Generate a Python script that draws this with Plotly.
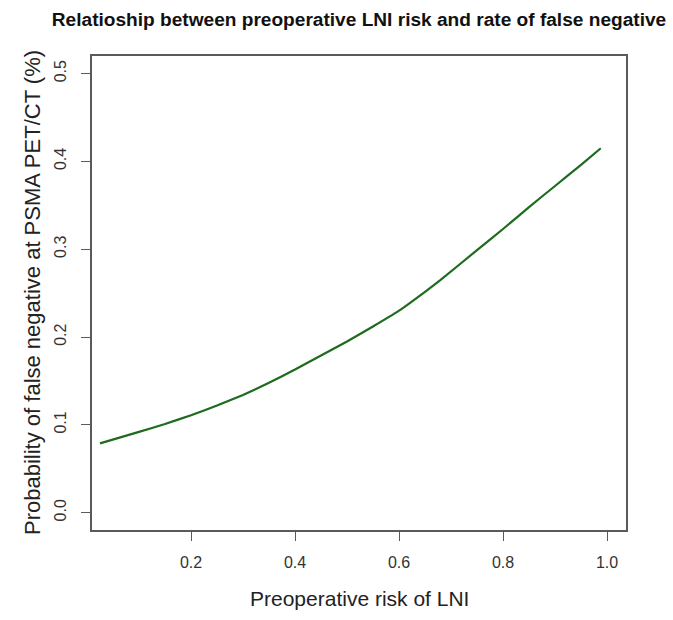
import plotly.graph_objects as go

# Values
lni_risk = [0.025, 0.1, 0.15, 0.2, 0.25, 0.3, 0.35, 0.4, 0.45, 0.5, 0.55,
            0.6, 0.65, 0.68, 0.75, 0.8, 0.85, 0.9, 0.95, 0.988]
false_neg_prob = [0.079, 0.092, 0.101, 0.111, 0.122, 0.134, 0.148, 0.163, 0.179, 0.195, 0.212,
                  0.230, 0.2515, 0.265, 0.299, 0.323, 0.348, 0.372, 0.396, 0.415]

x_ticks = [0.2, 0.4, 0.6, 0.8, 1.0]
x_tick_labels = ["0.2", "0.4", "0.6", "0.8", "1.0"]
y_ticks = [0.0, 0.1, 0.2, 0.3, 0.4, 0.5]
y_tick_labels = ["0.0", "0.1", "0.2", "0.3", "0.4", "0.5"]

title_text = "Relatioship between preoperative LNI risk and rate of false negative"
x_title = "Preoperative risk of LNI"
y_title = "Probability of false negative at PSMA PET/CT (%)"

FONT = "Liberation Sans, Arial, Helvetica, sans-serif"

# plot area in pixels
L, R, T, B = 92, 47, 56, 90
W, H = 673, 620
pw, ph = W - L - R, H - T - B

fig = go.Figure()
fig.add_trace(go.Scatter(
    x=lni_risk, y=false_neg_prob, mode="lines",
    line=dict(color="#1d6b1d", width=2.2, shape="spline", smoothing=0.3),
    showlegend=False, hoverinfo="skip",
))

fig.update_layout(
    width=W, height=H,
    margin=dict(l=L, r=R, t=T, b=B),
    paper_bgcolor="white", plot_bgcolor="white",
    font=dict(family=FONT, color="#222"),
    title=dict(text="<b>" + title_text + "</b>", x=0.5, xref="paper", xanchor="center",
               y=1 - 19 / H, yref="container", yanchor="middle",
               font=dict(size=19.1, color="#111")),
    annotations=[
        dict(text=x_title, xref="paper", yref="paper", x=0.5, y=-(598 - (H - B)) / ph,
             xanchor="center", yanchor="middle", showarrow=False,
             font=dict(size=21, color="#222")),
        dict(text=y_title, xref="paper", yref="paper", x=-(L - 32) / pw, y=0.5,
             xanchor="center", yanchor="middle", showarrow=False, textangle=-90,
             font=dict(size=22, color="#222")),
    ],
)

axis_common = dict(
    showgrid=False, zeroline=False, showline=True, mirror=True,
    linecolor="#5a5a5a", linewidth=1.5,
    ticks="outside", ticklen=9, tickwidth=1.3, tickcolor="#5a5a5a",
    tickfont=dict(size=16, color="#333"),
)

fig.update_xaxes(
    range=[0.0096, 1.0365], tickvals=x_ticks, ticktext=x_tick_labels,
    ticklabelstandoff=8,
    **axis_common,
)
fig.update_yaxes(
    range=[-0.0197, 0.520], tickvals=y_ticks, ticktext=y_tick_labels,
    tickangle=-90,
    ticklabelstandoff=9,
    **axis_common,
)

fig.write_html("out.html")
